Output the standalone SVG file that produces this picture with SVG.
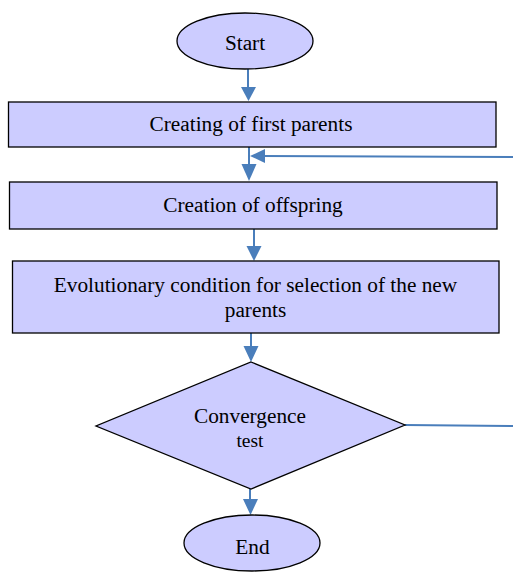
<svg xmlns="http://www.w3.org/2000/svg" width="513" height="572" viewBox="0 0 513 572">
<style>
.shape{fill:#ccccff;stroke:#000;stroke-width:1.3}
.lbl{font-family:"Liberation Serif","Times New Roman",serif;font-size:21.3px;fill:#000;text-anchor:middle}
.conn{stroke:#4a7ebb;stroke-width:2;fill:none}
.head{fill:#4a7ebb}
</style>
<rect width="513" height="572" fill="#fff"/>
<g id="connectors">
<line class="conn" x1="248" y1="69" x2="248" y2="88"/>
<polygon class="head" points="241,87 256,87 248.5,101"/>
<line class="conn" x1="249" y1="147" x2="249" y2="165"/>
<polygon class="head" points="241.5,164 256.5,164 249,181"/>
<line class="conn" x1="262" y1="156" x2="513" y2="157"/>
<polygon class="head" points="265,149 265,163 250,156"/>
<line class="conn" x1="254" y1="229" x2="254" y2="247"/>
<polygon class="head" points="246.5,246 261.5,246 254,261"/>
<line class="conn" x1="251" y1="333" x2="251" y2="348"/>
<polygon class="head" points="243.5,346 258.5,346 251,362"/>
<line class="conn" x1="405" y1="425" x2="513" y2="426"/>
<line class="conn" x1="250" y1="489" x2="250" y2="501"/>
<polygon class="head" points="243,499 258,499 250.5,515"/>
</g>
<g id="start">
<ellipse class="shape" cx="245" cy="41" rx="68" ry="28"/>
<text class="lbl" x="245" y="50">Start</text>
</g>
<g id="first-parents">
<rect class="shape" x="8.5" y="102" width="487.5" height="45"/>
<text class="lbl" x="251" y="131">Creating of first parents</text>
</g>
<g id="offspring">
<rect class="shape" x="9.5" y="182" width="487.5" height="47"/>
<text class="lbl" x="253" y="212">Creation of offspring</text>
</g>
<g id="selection">
<rect class="shape" x="12.5" y="261" width="486.5" height="72"/>
<text class="lbl" x="255.5" y="292">Evolutionary condition for selection of the new</text>
<text class="lbl" x="255.5" y="317">parents</text>
</g>
<g id="convergence">
<polygon class="shape" points="251,362 405,425 251,489 96,426"/>
<text class="lbl" x="250" y="423">Convergence</text>
<text class="lbl" x="250" y="447" style="font-size:19.5px">test</text>
</g>
<g id="end">
<ellipse class="shape" cx="252" cy="543" rx="68" ry="28"/>
<text class="lbl" x="252.5" y="554">End</text>
</g>
</svg>
